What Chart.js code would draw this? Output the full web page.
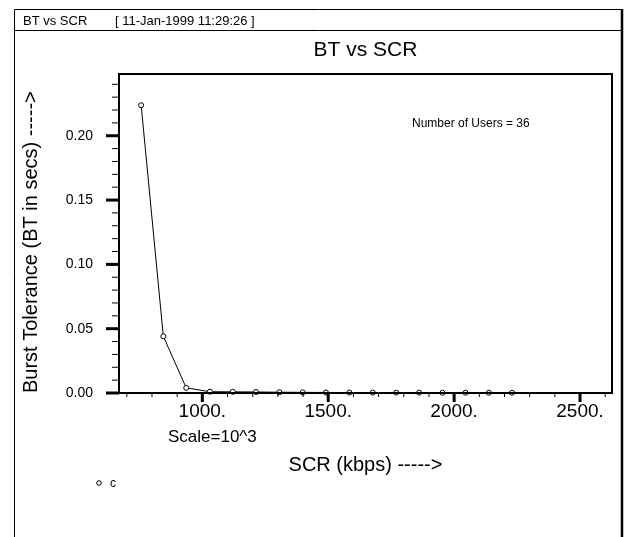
<!DOCTYPE html>
<html>
<head>
<meta charset="utf-8">
<title>BT vs SCR</title>
<script src="https://cdn.jsdelivr.net/npm/chart.js@4.4.1/dist/chart.umd.min.js"></script>
<style>
  body { margin: 0; background: #fff; }
  canvas { display: block; }
</style>
</head>
<body>
<canvas id="btChart" width="625" height="537"></canvas>
<script>
// Data (SCR in kbps, BT in secs)
const scrValues = [757, 845, 936, 1030, 1121, 1213, 1306, 1399, 1491, 1584, 1677, 1770, 1861, 1954, 2045, 2138, 2230];
const btValues = [0.2237, 0.0441, 0.0040, 0.0010, 0.0009, 0.0008, 0.0006, 0.0005, 0.0004, 0.0004, 0.0003, 0.0003, 0.0003, 0.0002, 0.0002, 0.0002, 0.0002];
const xMajorTicks = [1000, 1500, 2000, 2500];
const yMajorTicks = [0, 0.05, 0.10, 0.15, 0.20];

const headerTitle = 'BT vs SCR';
const headerStamp = '[ 11-Jan-1999 11:29:26 ]';
const chartTitle = 'BT vs SCR';
const usersNote = 'Number of Users = 36';
const scaleNote = 'Scale=10^3';
const seriesLabel = 'c';

const FONT = '"Liberation Sans", Arial, sans-serif';

function isMajor(list, v) {
    return list.some(m => Math.abs(m - v) < 1e-6);
}

// Frame, tick marks and the loose texts around the plot
const decorations = {
    id: 'decorations',
    afterDraw(chart) {
        const { ctx, chartArea: a, scales: { x, y } } = chart;
        ctx.save();
        ctx.strokeStyle = '#000';
        ctx.fillStyle = '#000';

        // outer page border + header line
        ctx.lineWidth = 1;
        ctx.beginPath();
        ctx.moveTo(14.5, 537);
        ctx.lineTo(14.5, 9.5);
        ctx.lineTo(622, 9.5);
        ctx.moveTo(14.5, 30.5);
        ctx.lineTo(622, 30.5);
        ctx.stroke();
        ctx.lineWidth = 2.5;
        ctx.beginPath();
        ctx.moveTo(622, 9);
        ctx.lineTo(622, 537);
        ctx.stroke();

        ctx.font = '13px ' + FONT;
        ctx.textBaseline = 'middle';
        ctx.textAlign = 'left';
        ctx.fillText(headerTitle, 23, 21);
        ctx.fillText(headerStamp, 115, 21);

        ctx.font = '21px ' + FONT;
        ctx.textAlign = 'center';
        ctx.fillText(chartTitle, (a.left + a.right) / 2, 50);

        // plot frame
        ctx.lineWidth = 2;
        ctx.strokeRect(a.left, a.top, a.right - a.left, a.bottom - a.top);

        // x ticks (minor every 100, major every 500)
        x.ticks.forEach(t => {
            const px = x.getPixelForValue(t.value);
            const major = isMajor(xMajorTicks, t.value);
            ctx.lineWidth = major ? 3 : 1;
            ctx.beginPath();
            ctx.moveTo(px, a.bottom);
            ctx.lineTo(px, a.bottom + (major ? 9 : 4));
            ctx.stroke();
        });

        // y ticks (minor every 0.01, major every 0.05)
        y.ticks.forEach(t => {
            const py = y.getPixelForValue(t.value);
            const major = isMajor(yMajorTicks, t.value);
            ctx.lineWidth = major ? 3 : 1;
            ctx.beginPath();
            ctx.moveTo(a.left, py);
            ctx.lineTo(a.left - (major ? 13 : 7), py);
            ctx.stroke();
        });

        ctx.textAlign = 'left';
        ctx.font = '12px ' + FONT;
        ctx.fillText(usersNote, 412, 124);

        ctx.font = '17px ' + FONT;
        ctx.fillText(scaleNote, 168, 437);

        // small legend
        ctx.lineWidth = 1;
        ctx.beginPath();
        ctx.arc(99, 483, 2.3, 0, Math.PI * 2);
        ctx.stroke();
        ctx.font = '12px ' + FONT;
        ctx.fillText(chart.data.datasets[0].label, 110, 484);

        ctx.restore();
    }
};

const ctx = document.getElementById('btChart').getContext('2d');
new Chart(ctx, {
    type: 'scatter',
    data: {
        datasets: [{
            label: seriesLabel,
            data: scrValues.map((v, i) => ({ x: v, y: btValues[i] })),
            showLine: true,
            borderColor: '#000',
            borderWidth: 1,
            pointRadius: 2.5,
            pointBorderWidth: 1,
            pointBorderColor: '#000',
            pointBackgroundColor: '#fff',
            clip: false
        }]
    },
    options: {
        responsive: false,
        animation: false,
        layout: { padding: { left: 0, top: 74, right: 13, bottom: 0 } },
        plugins: {
            legend: { display: false },
            tooltip: { enabled: false }
        },
        scales: {
            x: {
                type: 'linear',
                min: 669,
                max: 2627,
                afterFit(scale) { scale.height = 144; },
                grid: { display: false, drawTicks: false },
                border: { display: false },
                ticks: {
                    stepSize: 100,
                    includeBounds: false,
                    autoSkip: false,
                    maxRotation: 0,
                    padding: 7,
                    color: '#000',
                    font: { family: FONT, size: 19 },
                    callback: v => isMajor(xMajorTicks, v) ? v + '.' : ''
                },
                title: {
                    display: true,
                    text: 'SCR (kbps) ----->',
                    color: '#000',
                    font: { family: FONT, size: 20 },
                    padding: { top: 0, bottom: 60 }
                }
            },
            y: {
                min: 0,
                max: 0.248,
                afterFit(scale) { scale.width = 119; },
                grid: { display: false, drawTicks: false },
                border: { display: false },
                ticks: {
                    stepSize: 0.01,
                    includeBounds: false,
                    autoSkip: false,
                    padding: 26,
                    color: '#000',
                    font: { family: FONT, size: 14 },
                    callback: v => isMajor(yMajorTicks, v) ? v.toFixed(2) : ''
                },
                title: {
                    display: true,
                    align: 'start',
                    text: 'Burst Tolerance (BT in secs) ----->',
                    color: '#000',
                    font: { family: FONT, size: 20 },
                    padding: { top: 19, bottom: 0 }
                }
            }
        }
    },
    plugins: [decorations]
});
</script>
</body>
</html>
